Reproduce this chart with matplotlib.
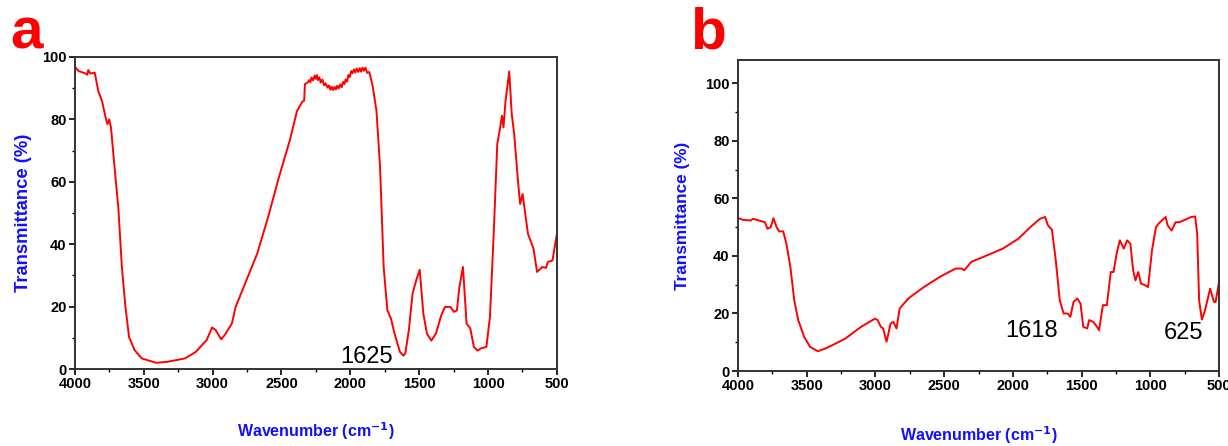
import numpy as np
import matplotlib
matplotlib.use("Agg")
import matplotlib.pyplot as plt
from matplotlib.ticker import MultipleLocator

plt.rcParams['font.family'] = ['Liberation Sans', 'DejaVu Sans']

# panel a spectrum (wavenumber, transmittance)
wn_a = [4000, 3974, 3921, 3910, 3903, 3887, 3856, 3830, 3803, 3777, 3764, 3751, 3738,
        3712, 3685, 3659, 3633, 3607, 3567, 3515, 3410, 3331, 3200, 3122, 3043,
        3004, 2978, 2938, 2912, 2860, 2833, 2755, 2676, 2597, 2519, 2440, 2387,
        2348, 2335, 2330, 2310, 2300, 2290, 2282, 2270, 2260, 2250, 2243, 2235,
        2225, 2215, 2203, 2190, 2180, 2165, 2155, 2145, 2135, 2125, 2115, 2105,
        2095, 2085, 2073, 2063, 2053, 2043, 2034, 2024, 2014, 2004, 1994, 1984,
        1974, 1964, 1954, 1942, 1932, 1922, 1912, 1902, 1890, 1878, 1862, 1850,
        1836, 1810, 1784, 1758, 1731, 1705, 1679, 1640, 1614, 1601, 1575, 1548,
        1522, 1496, 1470, 1444, 1412, 1378, 1339, 1313, 1273, 1247, 1226, 1208,
        1182, 1156, 1129, 1103, 1077, 1051, 1012, 986, 959, 933, 912, 899, 888,
        873, 846, 828, 810, 783, 767, 749, 736, 710, 670, 644, 605, 579, 566,
        532, 500]
tr_a = [96.9, 95.5, 94.7, 94.3, 95.8, 94.7, 95.0, 89.0, 85.9, 80.6, 78.5, 80.0, 77.4,
        64.6, 51.9, 32.7, 19.9, 10.3, 6.1, 3.4, 2.0, 2.3, 3.4, 5.5, 9.3,
        13.3, 12.5, 9.5, 10.9, 14.6, 19.9, 28.4, 37.0, 48.7, 61.4, 73.2, 82.7,
        85.7, 86.0, 91.3, 91.8, 92.6, 91.9, 93.4, 92.5, 94.0, 93.0, 94.2, 92.6,
        93.5, 91.8, 92.8, 90.9, 91.6, 90.2, 90.9, 89.5, 90.5, 89.4, 90.4, 89.6,
        90.8, 89.9, 91.2, 90.3, 92.0, 91.3, 92.8, 92.1, 94.2, 93.6, 95.5, 94.8,
        96.0, 95.0, 96.3, 95.2, 96.4, 95.3, 96.6, 95.6, 96.6, 94.9, 95.2, 93.0,
        90.2, 82.7, 64.6, 32.7, 18.8, 16.2, 11.4, 5.5, 4.3, 5.0, 12.5, 24.2,
        28.4, 31.8, 17.8, 11.4, 9.1, 11.4, 17.3, 19.9, 19.9, 18.3, 18.8, 26.3,
        32.7, 14.6, 13.0, 7.1, 5.9, 6.6, 7.1, 16.7, 43.3, 72.1, 77.4, 81.2, 77.4,
        85.9, 95.3, 81.7, 75.3, 60.4, 52.9, 56.1, 51.9, 43.3, 38.6, 31.1, 32.7, 32.4, 34.3,
        34.8, 43.3]

# panel b spectrum
wn_b = [4000, 3963, 3906, 3891, 3848, 3805, 3785, 3762, 3742, 3720, 3700, 3671,
        3648, 3619, 3591, 3562, 3519, 3476, 3419, 3362, 3305, 3219, 3104, 3004,
        2984, 2961, 2944, 2919, 2890, 2870, 2847, 2824, 2761, 2647, 2532, 2417,
        2374, 2354, 2303, 2188, 2074, 1959, 1873, 1802, 1765, 1745, 1716, 1688,
        1659, 1631, 1602, 1582, 1559, 1531, 1508, 1488, 1459, 1445, 1416, 1388,
        1373, 1345, 1316, 1288, 1268, 1245, 1222, 1193, 1168, 1145, 1125, 1108,
        1088, 1068, 1039, 1016, 988, 959, 936, 916, 888, 874, 845, 816, 788, 759,
        731, 702, 674, 659, 645, 625, 602, 565, 537, 525, 500]
tr_b = [53.2, 52.5, 52.3, 52.9, 52.3, 51.7, 49.4, 50.0, 53.1, 50.0, 48.5, 48.5,
        44.2, 36.1, 24.6, 17.7, 11.9, 8.4, 6.9, 7.9, 9.2, 11.3, 15.4, 18.2,
        17.7, 15.4, 14.8, 10.2, 16.5, 17.1, 14.8, 21.7, 25.2, 29.2, 32.7, 35.6,
        35.6, 35.0, 37.9, 40.2, 42.5, 46.0, 50.0, 52.9, 53.5, 50.6, 49.1, 38.5,
        24.6, 20.0, 20.0, 18.8, 24.0, 25.2, 23.4, 15.4, 14.8, 17.7, 17.1, 15.4,
        14.2, 22.9, 22.9, 34.4, 34.4, 40.8, 45.4, 42.5, 45.4, 44.2, 35.0, 31.5,
        34.4, 30.4, 29.8, 29.2, 41.9, 50.0, 51.4, 52.3, 53.5, 50.6, 48.8, 51.7, 51.7, 52.3,
        52.9, 53.5, 53.7, 47.7, 24.6, 17.9, 21.1, 28.6, 24.0, 24.0, 30.9]

peaks_a = [("1625", 1880, 4.0)]
peaks_b = [("1618", 1861, 13.9), ("625", 760, 13.2)]

fig = plt.figure(figsize=(12.28, 4.46), dpi=100)
ax_a = fig.add_axes([0.061, 0.1726, 0.3925, 0.6996])
ax_b = fig.add_axes([0.601, 0.168, 0.3917, 0.6973])

blue = "#1010ff"
for ax, wn, tr, ymax, peaks, ysize in [(ax_a, wn_a, tr_a, 100, peaks_a, 13.2),
                                       (ax_b, wn_b, tr_b, 108, peaks_b, 12.4)]:
    ax.plot(wn, tr, color="#ff0000", linewidth=1.4)
    ax.set_xlim(4000, 500)
    ax.set_ylim(0, ymax)
    ax.xaxis.set_major_locator(MultipleLocator(500))
    ax.xaxis.set_minor_locator(MultipleLocator(250))
    ax.yaxis.set_major_locator(MultipleLocator(20))
    ax.yaxis.set_minor_locator(MultipleLocator(10))
    ax.set_yticks([0, 20, 40, 60, 80, 100])
    ax.tick_params(which="major", direction="out", length=4, width=1.2,
                   labelsize=10.5, pad=2)
    ax.tick_params(which="minor", direction="out", length=2.5, width=1.0)
    for lab in ax.get_xticklabels() + ax.get_yticklabels():
        lab.set_fontweight("bold")
    for sp in ax.spines.values():
        sp.set_linewidth(1.4)
        sp.set_color("#333333")
    ax.set_xlabel("Wavenumber (cm$^{\\mathbf{-1}}$)", color=blue,
                  fontsize=11.5, fontweight="bold")
    ax.set_ylabel("Transmittance (%)", color=blue, fontsize=ysize, fontweight="bold")
    for txt, x, y in peaks:
        ax.text(x, y, txt, fontsize=17, ha="center", va="center", color="black")

ax_a.xaxis.set_label_coords(0.5, -0.165)
ax_b.xaxis.set_label_coords(0.5, -0.172)
ax_a.yaxis.set_label_coords(-0.089, 0.5)
ax_b.yaxis.set_label_coords(-0.1, 0.5)

fig.text(0.008, 0.985, "a", fontsize=42, fontweight="bold", color="#ff0000",
         va="top", ha="left")
fig.text(0.562, 0.985, "b", fontsize=42, fontweight="bold", color="#ff0000",
         va="top", ha="left")

fig.savefig("out.png", dpi=100)
